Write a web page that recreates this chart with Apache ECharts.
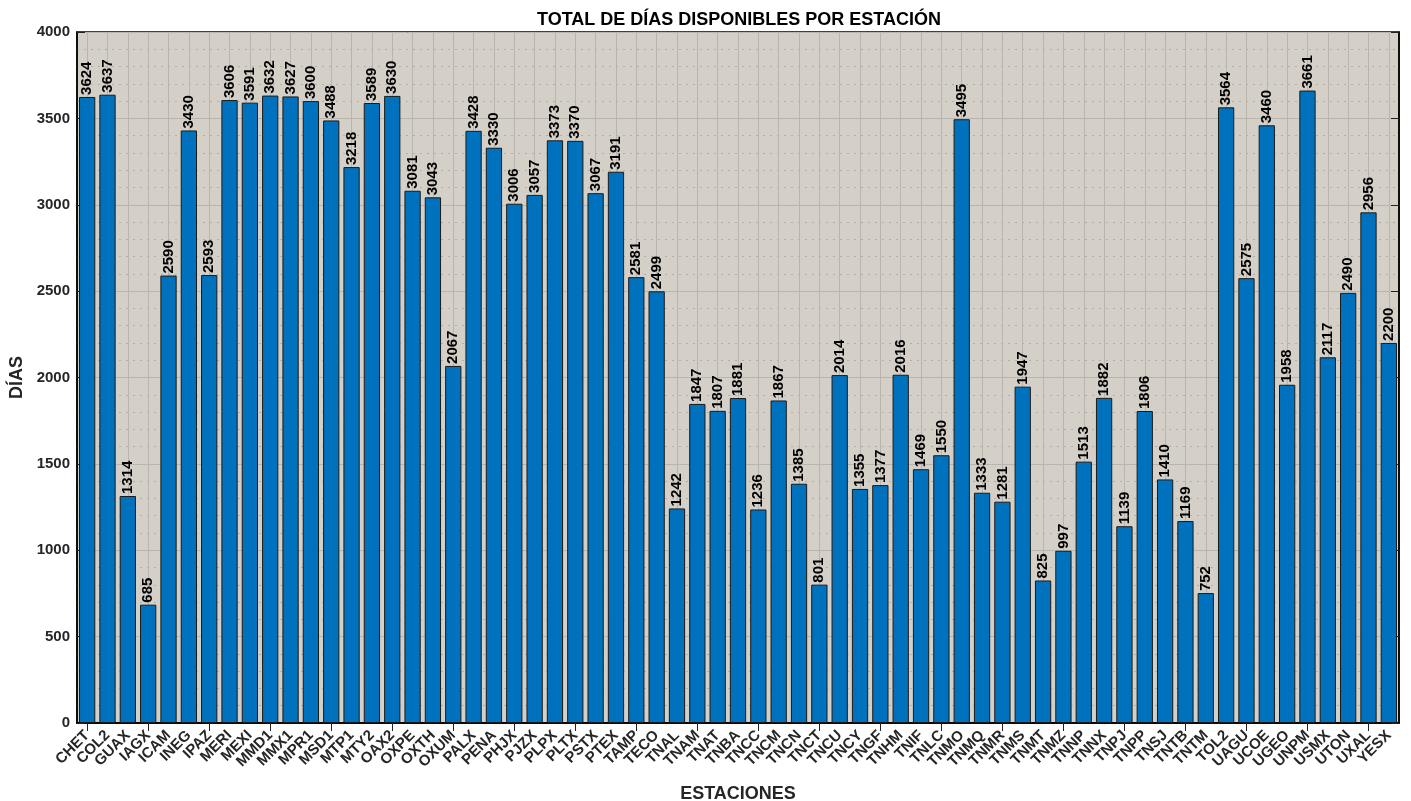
<!DOCTYPE html>
<html>
<head>
<meta charset="utf-8">
<script src="https://cdn.jsdelivr.net/npm/echarts@6/dist/echarts.min.js"></script>
<style>
  html, body { margin: 0; padding: 0; background: #fff; }
  #chart { width: 1411px; height: 801px; }
</style>
</head>
<body>
<div id="chart"></div>
<script>
// estaciones y dias disponibles
var estaciones = ['CHET','COL2','GUAX','IAGX','ICAM','INEG','IPAZ','MERI','MEXI','MMD1','MMX1','MPR1','MSD1','MTP1','MTY2','OAX2','OXPE','OXTH','OXUM','PALX','PENA','PHJX','PJZX','PLPX','PLTX','PSTX','PTEX','TAMP','TECO','TNAL','TNAM','TNAT','TNBA','TNCC','TNCM','TNCN','TNCT','TNCU','TNCY','TNGF','TNHM','TNIF','TNLC','TNMO','TNMQ','TNMR','TNMS','TNMT','TNMZ','TNNP','TNNX','TNPJ','TNPP','TNSJ','TNTB','TNTM','TOL2','UAGU','UCOE','UGEO','UNPM','USMX','UTON','UXAL','YESX'];
var dias = [3624,3637,1314,685,2590,3430,2593,3606,3591,3632,3627,3600,3488,3218,3589,3630,3081,3043,2067,3428,3330,3006,3057,3373,3370,3067,3191,2581,2499,1242,1847,1807,1881,1236,1867,1385,801,2014,1355,1377,2016,1469,1550,3495,1333,1281,1947,825,997,1513,1882,1139,1806,1410,1169,752,3564,2575,3460,1958,3661,2117,2490,2956,2200];

var chart = echarts.init(document.getElementById('chart'));
var txt = '#262626';
var fam = 'Arial, Liberation Sans';
var option = {
  animation: false,
  title: {
    text: 'TOTAL DE DÍAS DISPONIBLES POR ESTACIÓN',
    left: 734, top: 6, textAlign: 'center',
    textStyle: { fontFamily: fam, fontSize: 18, fontWeight: 'bold', color: '#000' }
  },
  grid: { left: 77, right: 12, top: 32, bottom: 78, containLabel: false, outerBoundsMode: 'none', show: true, backgroundColor: '#d4d0c8', borderColor: '#000', borderWidth: 1.5 },
  xAxis: [{
    type: 'category',
    data: estaciones,
    name: 'ESTACIONES',
    nameLocation: 'middle',
    nameGap: 62,
    nameTextStyle: { fontFamily: fam, fontSize: 18, fontWeight: 'bold', color: txt },
    axisLine: { lineStyle: { color: '#000', width: 1.5 } },
    axisTick: { show: true, inside: true, alignWithLabel: true, length: 8, lineStyle: { color: '#222' } },
    axisLabel: { rotate: 45, interval: 0, margin: 10, fontFamily: fam, fontSize: 15, fontWeight: 'bold', color: txt },
    splitLine: { show: true, alignWithLabel: true, lineStyle: { color: '#b9b5ae', width: 1 } }
  }, {
    type: 'category',
    data: estaciones,
    position: 'top',
    axisLine: { show: true, lineStyle: { color: '#000', width: 1.5 } },
    axisTick: { show: true, inside: true, alignWithLabel: true, length: 8, lineStyle: { color: '#222' } },
    axisLabel: { show: false },
    splitLine: { show: false }
  }],
  yAxis: [{
    type: 'value',
    min: 0, max: 4000, interval: 500,
    name: 'DÍAS',
    nameLocation: 'middle',
    nameGap: 50,
    nameTextStyle: { fontFamily: fam, fontSize: 18, fontWeight: 'bold', color: txt },
    axisLine: { show: true, lineStyle: { color: '#000', width: 1.5 } },
    axisTick: { show: true, inside: true, length: 8, lineStyle: { color: '#222' } },
    axisLabel: { fontFamily: fam, fontSize: 15, fontWeight: 'bold', color: txt, margin: 7, formatter: function (v) { return String(v); } },
    splitLine: { show: true, lineStyle: { color: '#b9b5ae', width: 1 } },
    minorTick: { show: false, splitNumber: 5 },
    minorSplitLine: { show: true, lineStyle: { color: '#b3afa8', type: [2, 5], width: 1 } }
  }, {
    type: 'value',
    min: 0, max: 4000, interval: 500,
    position: 'right',
    axisLine: { show: true, lineStyle: { color: '#000', width: 1.5 } },
    axisTick: { show: true, inside: true, length: 8, lineStyle: { color: '#222' } },
    axisLabel: { show: false },
    splitLine: { show: false }
  }],
  series: [{
    type: 'bar',
    data: dias,
    barCategoryGap: '20%',
    itemStyle: { color: '#0072bd', borderColor: '#1a1a1a', borderWidth: 1 },
    label: {
      show: true,
      position: 'top',
      rotate: 90,
      align: 'left',
      verticalAlign: 'middle',
      distance: 2,
      fontFamily: fam,
      fontSize: 15,
      fontWeight: 'bold',
      color: '#000'
    }
  }]
};
chart.setOption(option);
</script>
</body>
</html>
